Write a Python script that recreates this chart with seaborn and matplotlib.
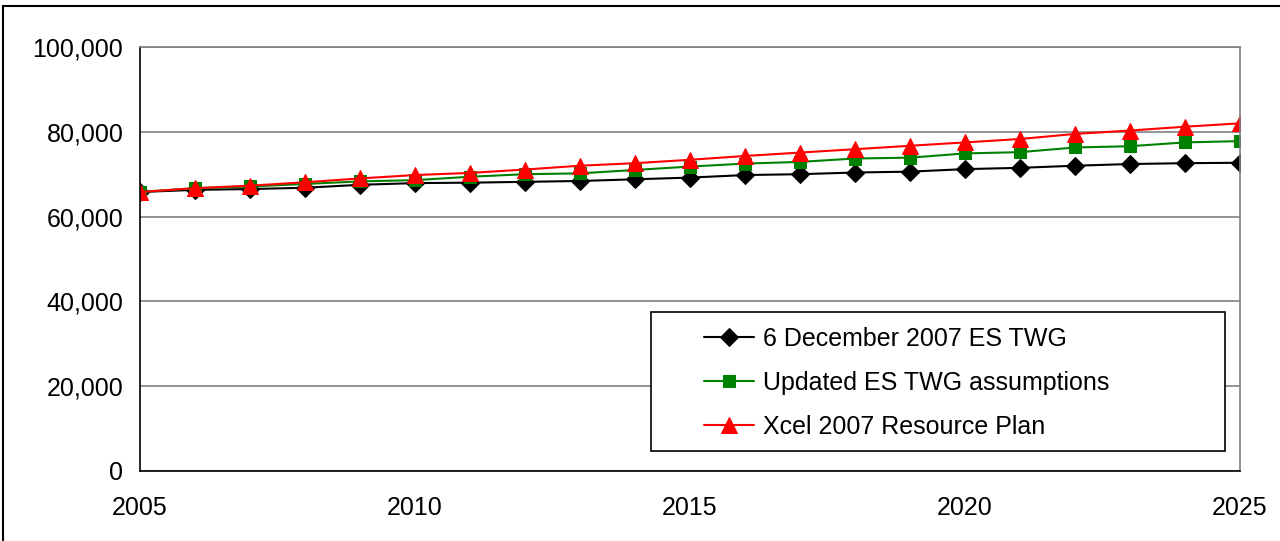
import numpy as np
import pandas as pd
import matplotlib
matplotlib.use("Agg")
import matplotlib.pyplot as plt
import matplotlib.ticker as mticker
from matplotlib.patches import Rectangle
import seaborn as sns

years = list(range(2005, 2026))

es_twg_dec2007 = [65800, 66300, 66500, 66800, 67500, 67900, 68000, 68200, 68400, 68800,
                  69200, 69800, 70000, 70400, 70600, 71200, 71500, 72000, 72400, 72600, 72700]
es_twg_updated = [65800, 66700, 67100, 67700, 68300, 68600, 69400, 70000, 70200, 71000,
                  71800, 72500, 72900, 73700, 73900, 74900, 75200, 76300, 76600, 77500, 77800]
xcel_2007_plan = [65800, 66700, 67300, 68100, 69000, 69800, 70300, 71100, 72000, 72600,
                  73400, 74300, 75100, 75900, 76700, 77500, 78300, 79500, 80300, 81200, 82000]

labels = ["6 December 2007 ES TWG", "Updated ES TWG assumptions", "Xcel 2007 Resource Plan"]
colors = ["black", "#008000", "#ff0000"]
markers = ["D", "s", "^"]
msizes = [9, 9, 11]

sns.set_style("white")
plt.rcParams['font.family'] = ['Liberation Sans', 'DejaVu Sans']
plt.rcParams['text.color'] = 'black'
plt.rcParams['xtick.color'] = 'black'
plt.rcParams['ytick.color'] = 'black'

fig = plt.figure(figsize=(12.8, 5.41), dpi=100)
ax = fig.add_axes([140/1280, 1 - 471/541, 1100/1280, 424/541])

for vals, lab, c, m, ms in zip([es_twg_dec2007, es_twg_updated, xcel_2007_plan], labels, colors, markers, msizes):
    sns.lineplot(x=years, y=vals, ax=ax, color=c, marker=m, markersize=ms,
                 markeredgecolor=c, markerfacecolor=c, linewidth=1.5, label=lab)

ax.set_xlim(2005, 2025)
ax.set_ylim(0, 100000)
ax.set_yticks(np.arange(0, 100001, 20000))
ax.yaxis.set_major_formatter(mticker.FuncFormatter(lambda v, p: f"{int(v):,}"))
ax.set_xticks([2005, 2010, 2015, 2020, 2025])
ax.set_xticks(years, minor=True)
ax.grid(axis='y', color='#808080', linewidth=1.2)
ax.set_axisbelow(True)

for s in ['left', 'bottom']:
    ax.spines[s].set_color('black')
    ax.spines[s].set_linewidth(1.2)
for s in ['top', 'right']:
    ax.spines[s].set_color('#808080')
    ax.spines[s].set_linewidth(1.2)

ax.tick_params(axis='both', which='both', direction='out', color='black', width=1.2)
ax.tick_params(axis='y', length=7, labelsize=18, pad=5, labelcolor='black')
ax.tick_params(axis='x', which='major', length=7, labelsize=18, pad=11, labelcolor='black')
ax.tick_params(axis='x', which='minor', length=7)
ax.set_xlabel("")
ax.set_ylabel("")

# legend box (Excel style, fixed size) with the entries placed inside it
box = Rectangle(((651 - 140) / 1100, (471 - 451) / 424), 574 / 1100, 139 / 424,
                transform=ax.transAxes, facecolor='white', edgecolor='black',
                linewidth=1.2, zorder=4)
ax.add_patch(box)
leg = ax.legend(loc='upper left', bbox_to_anchor=((704 - 140) / 1100, (471 - 327) / 424),
                frameon=False, fontsize=18, handlelength=2.0, borderpad=0,
                labelspacing=0.8, handletextpad=0.35, borderaxespad=0)
leg.set_zorder(5)

fig.patches.append(Rectangle((3/1280, -0.05), 1.2, 1.05 - 6/541, transform=fig.transFigure,
                             fill=False, edgecolor='black', linewidth=1.5, clip_on=False))

fig.savefig("out.png", dpi=100)
